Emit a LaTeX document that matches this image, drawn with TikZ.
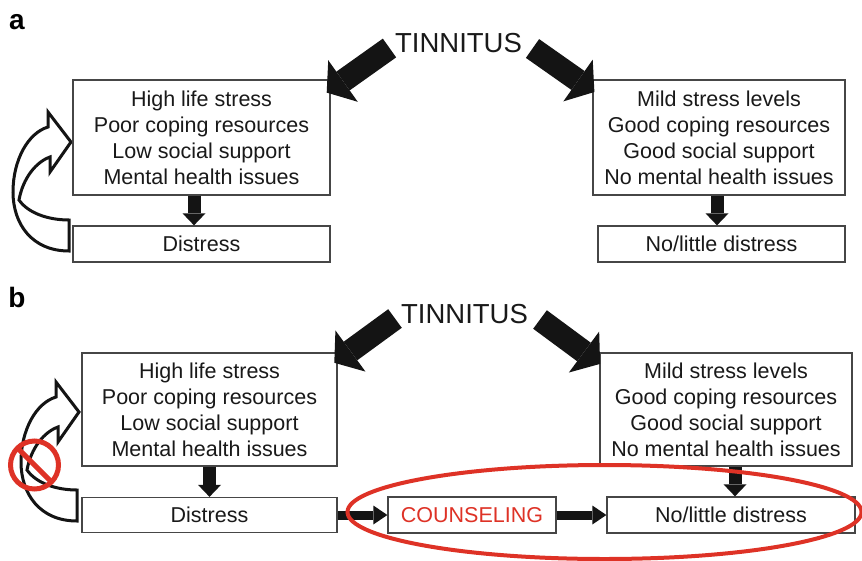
\documentclass[tikz,border=0pt]{standalone}
\usepackage{fontspec}
\setmainfont{Liberation Sans}
\usetikzlibrary{arrows.meta}
\definecolor{boxline}{RGB}{70,70,70}
\definecolor{txt}{RGB}{25,25,25}
\definecolor{blk}{RGB}{20,20,20}
\definecolor{redc}{RGB}{222,50,38}
\tikzset{
  curvarr/.pic={
    \draw[line width=3pt,fill=white,line join=miter,draw=blk]
      (69,251) .. controls (32,251) and (13,224) .. (13,192)
      .. controls (13,160) and (28,133) .. (48,127)
      -- (48,112) -- (71,142) -- (50,172) -- (50,157)
      .. controls (36,162) and (23,178) .. (19,200)
      .. controls (28,213) and (48,220) .. (69,220) -- cycle;
  }
}
\begin{document}
\begin{tikzpicture}[x=1pt,y=-1pt,
  box/.style={draw=boxline,line width=1.3pt,fill=white,inner sep=0pt,align=center,text=txt,font=\fontsize{21.5}{26}\selectfont},
  title/.style={text=txt,font=\fontsize{27.5}{30}\selectfont,inner sep=0pt},
  blockarrow/.style={draw=blk,line width=23pt,-{Triangle[width=51pt,length=20pt,line width=0pt]}},
  downarrow/.style={draw=blk,line width=13pt,-{Triangle[width=23pt,length=12pt,line width=0pt]}},
  rightarrow/.style={draw=blk,line width=9pt,-{Triangle[width=19pt,length=14pt,line width=0pt]}},
  panellabel/.style={font=\fontsize{28}{30}\selectfont\bfseries,text=black,inner sep=0pt},
  nosign/.style={draw=redc,line width=5pt},
  ring/.style={draw=redc,line width=4pt}
]
\useasboundingbox (0,0) rectangle (862,560);

% panel labels
\node[panellabel] (la) at (17,22) {a};
\node[panellabel] (lb) at (17,297) {b};

% curved arrows
\pic at (0,0) {curvarr};
\pic at (8,270) {curvarr};

% panel a boxes
\node[box,minimum width=257pt,minimum height=115pt] (L1) at (201.5,137.5)
  {High life stress\\Poor coping resources\\Low social support\\Mental health issues};
\node[box,minimum width=257pt,minimum height=36pt] (D1) at (201.5,244) {Distress};
\node[box,minimum width=252pt,minimum height=115pt] (R1) at (719,137.5)
  {Mild stress levels\\Good coping resources\\Good social support\\No mental health issues};
\node[box,minimum width=247pt,minimum height=36pt] (ND1) at (721.5,244) {No/little distress};

% panel b boxes
\node[box,minimum width=255pt,minimum height=113pt] (L2) at (209.5,409.5)
  {High life stress\\Poor coping resources\\Low social support\\Mental health issues};
\node[box,minimum width=255pt,minimum height=35pt] (D2) at (209.5,515) {Distress};
\node[box,minimum width=252pt,minimum height=113pt] (R2) at (726,409.5)
  {Mild stress levels\\Good coping resources\\Good social support\\No mental health issues};
\node[box,minimum width=248pt,minimum height=36pt] (ND2) at (731,515) {No/little distress};
\node[box,minimum width=168pt,minimum height=36pt,text=redc] (C) at (472,515) {COUNSELING};

% titles
\node[title] (T1) at (458.5,43) {TINNITUS};
\node[title] (T2) at (464.5,314) {TINNITUS};

% block arrows
\coordinate (ta1) at (389.5,48);  \coordinate (ha1) at (326.7,92.6);
\coordinate (tb1) at (532.5,48.5); \coordinate (hb1) at (594.4,92);
\coordinate (ta2) at (395,318.5); \coordinate (ha2) at (334.3,362.8);
\coordinate (tb2) at (540,319.5); \coordinate (hb2) at (600.1,363.9);
\draw[blockarrow] (ta1) -- (ha1);
\draw[blockarrow] (tb1) -- (hb1);
\draw[blockarrow] (ta2) -- (ha2);
\draw[blockarrow] (tb2) -- (hb2);

% down arrows
\draw[downarrow] ([xshift=-7.5pt]L1.south) -- ([xshift=-7.5pt]D1.north);
\draw[downarrow] ([xshift=-2pt]R1.south) -- ([xshift=-2pt]R1.south |- ND1.north);
\draw[downarrow] (L2.south) -- (L2.south |- D2.north);
\draw[downarrow] ([xshift=9pt]R2.south) -- ([xshift=9pt]R2.south |- ND2.north);

% horizontal arrows
\draw[rightarrow] (D2.east) -- (C.west);
\draw[rightarrow] (C.east) -- (ND2.west);

% prohibition sign
\draw[nosign] (34.5,465) circle[radius=24];
\draw[nosign] (17.5,448) -- (51.5,482);

% red ellipse
\draw[ring] (604.5,512) ellipse[x radius=257,y radius=47];
\end{tikzpicture}
\end{document}
